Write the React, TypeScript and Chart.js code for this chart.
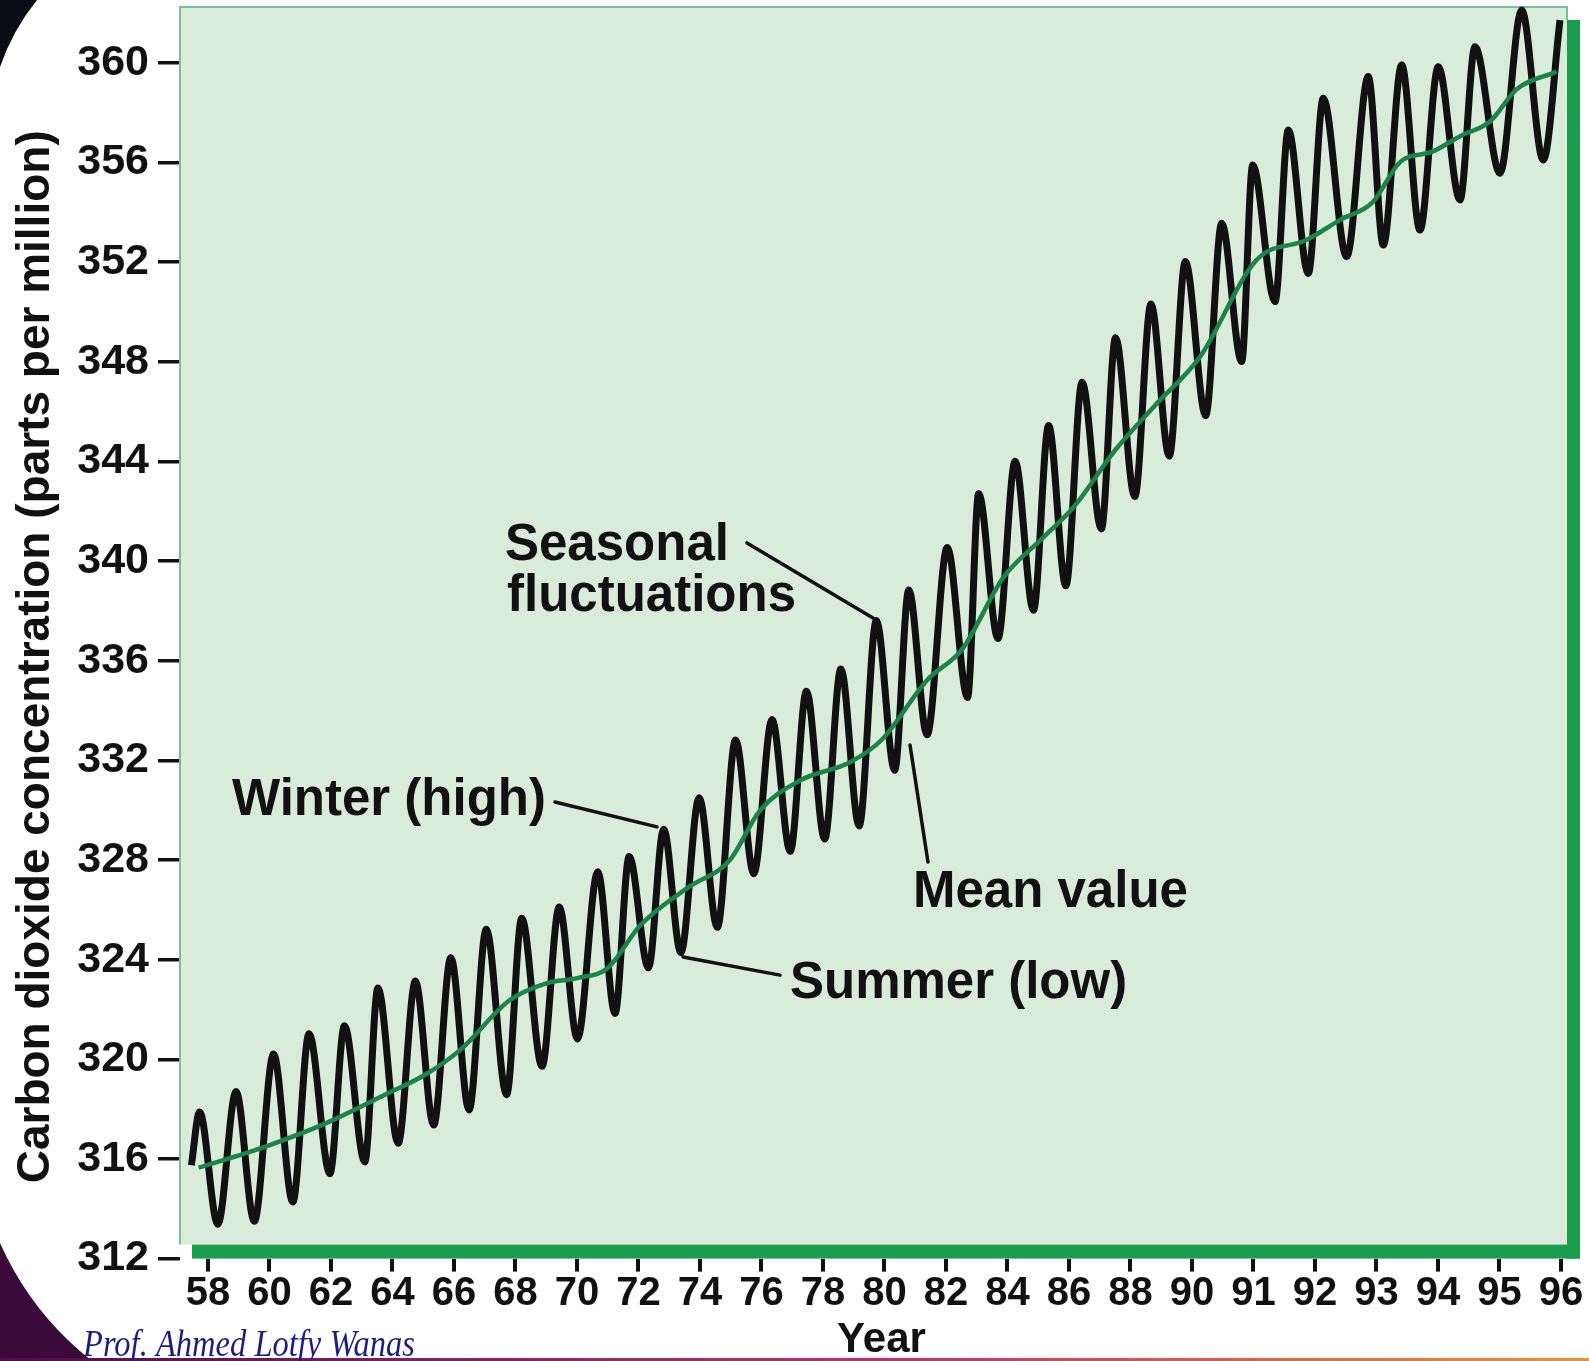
import React, { useEffect, useRef } from 'react';
import { Chart, registerables } from 'chart.js';

Chart.register(...registerables);

// ---- data ----
const xTickLabels = ['58', '60', '62', '64', '66', '68', '70', '72', '74', '76', '78', '80', '82', '84', '86', '88', '90', '91', '92', '93', '94', '95', '96'];
const yTickValues = [312, 316, 320, 324, 328, 332, 336, 340, 344, 348, 352, 356, 360];

// seasonal curve: x = position on the year axis (tick index), y = ppm (peaks and troughs)
const seasonalX = [-0.27, -0.137, 0.16, 0.456, 0.753, 1.066, 1.379, 1.643, 1.982, 2.219, 2.549, 2.763, 3.092, 3.372, 3.669, 3.949, 4.245, 4.525, 4.855, 5.102, 5.431, 5.711, 6.008, 6.338, 6.618, 6.849, 7.162, 7.409, 7.689, 7.986, 8.282, 8.579, 8.875, 9.171, 9.468, 9.731, 10.028, 10.291, 10.588, 10.868, 11.165, 11.395, 11.692, 12.021, 12.351, 12.532, 12.845, 13.125, 13.422, 13.669, 13.949, 14.213, 14.526, 14.757, 15.07, 15.333, 15.63, 15.893, 16.223, 16.483, 16.808, 16.987, 17.35, 17.566, 17.891, 18.135, 18.515, 18.867, 19.111, 19.41, 19.707, 20.005, 20.358, 20.602, 21.008, 21.361, 21.712, 21.984];
const seasonalY = [315.75, 317.89, 313.38, 318.71, 313.5, 320.21, 314.27, 321.03, 315.41, 321.35, 315.88, 322.86, 316.63, 323.14, 317.36, 324.08, 317.97, 325.22, 318.58, 325.66, 319.72, 326.11, 320.82, 327.53, 321.84, 328.14, 323.67, 329.24, 324.28, 330.5, 325.3, 332.82, 327.45, 333.64, 328.35, 334.78, 328.84, 335.67, 329.37, 337.62, 331.6, 338.84, 333.03, 340.55, 334.53, 342.71, 336.89, 344.01, 338.03, 345.44, 339.01, 347.18, 341.29, 348.97, 342.59, 350.32, 344.21, 352.03, 345.84, 353.56, 348.01, 355.9, 350.42, 357.31, 351.55, 358.58, 352.22, 359.45, 352.69, 359.92, 353.29, 359.85, 354.5, 360.65, 355.57, 362.12, 356.1, 361.72];

// mean value line
const meanX = [-0.153, 0.901, 1.923, 2.878, 3.537, 4.097, 4.904, 5.514, 6.008, 6.502, 7.029, 7.82, 8.479, 8.973, 9.632, 10.44, 10.951, 11.692, 12.269, 12.928, 13.587, 14.081, 14.74, 15.399, 16.13, 17.05, 17.86, 18.41, 18.94, 19.38, 19.92, 20.36, 20.85, 21.28, 21.93];
const meanY = [315.65, 316.47, 317.44, 318.58, 319.39, 320.37, 322.37, 323.06, 323.26, 323.67, 325.38, 326.92, 327.98, 329.98, 331.2, 331.93, 332.82, 335.22, 336.48, 339.33, 340.96, 342.18, 344.42, 346.25, 348.2, 352.09, 352.89, 353.7, 354.41, 356.01, 356.45, 357.06, 357.66, 358.94, 359.65];

// annotation labels (anchored in data units: left edge / baseline)
const noteLabels = ['Seasonal', 'fluctuations', 'Winter (high)', 'Summer (low)', 'Mean value'];
const noteX = [4.829, 4.862, 0.39, 9.463, 11.463];
const noteY = [340.05, 338.0, 329.81, 322.46, 326.11];
// pointer lines: [x1, y1, x2, y2] in data units
const pointers = [
  [8.764, 340.73, 10.813, 337.72],
  [5.642, 330.33, 7.301, 329.33],
  [7.724, 324.11, 9.301, 323.38],
  [11.415, 332.62, 11.707, 327.92],
];

const yTitle = 'Carbon dioxide concentration (parts per million)';
const xTitle = 'Year';
const credit = 'Prof. Ahmed Lotfy Wanas';

const SANS = '"Liberation Sans", Arial, Helvetica, sans-serif';
const SERIF = '"Liberation Serif", "Times New Roman", serif';

const decorPlugin = {
  id: 'decor',
  beforeDatasetsDraw(chart: any) {
    const { ctx, chartArea: a } = chart;
    ctx.save();
    // panel background
    ctx.fillStyle = '#d9ecd9';
    ctx.fillRect(a.left, a.top, a.right - a.left, a.bottom - 14 - a.top);
    // thin borders
    ctx.strokeStyle = '#78c096';
    ctx.lineWidth = 2;
    ctx.beginPath();
    ctx.moveTo(a.left, a.bottom - 14);
    ctx.lineTo(a.left, a.top);
    ctx.lineTo(a.right, a.top);
    ctx.lineTo(a.right, a.top + 13);
    ctx.stroke();
    // thick bars
    ctx.fillStyle = '#1b9c4f';
    ctx.fillRect(a.left + 12, a.bottom - 14, a.right + 13 - (a.left + 12), 14);
    ctx.fillRect(a.right, a.top + 13, 13, a.bottom - a.top - 13);
    ctx.restore();
  },
  afterDatasetsDraw(chart: any) {
    const { ctx, chartArea: a } = chart;
    const sx = chart.scales.x;
    const sy = chart.scales.y;
    ctx.save();
    // pointer lines
    ctx.strokeStyle = '#111';
    ctx.lineWidth = 3.5;
    ctx.lineCap = 'round';
    pointers.forEach((p) => {
      ctx.beginPath();
      ctx.moveTo(sx.getPixelForValue(p[0]), sy.getPixelForValue(p[1]));
      ctx.lineTo(sx.getPixelForValue(p[2]), sy.getPixelForValue(p[3]));
      ctx.stroke();
    });
    // labels
    ctx.fillStyle = '#111';
    ctx.font = `bold 51px ${SANS}`;
    ctx.textAlign = 'left';
    ctx.textBaseline = 'alphabetic';
    noteLabels.forEach((t, i) => {
      ctx.fillText(t, sx.getPixelForValue(noteX[i]), sy.getPixelForValue(noteY[i]));
    });
    // y axis title
    ctx.save();
    ctx.translate(49, (a.top + a.bottom) / 2 + 24);
    ctx.rotate(-Math.PI / 2);
    ctx.font = `bold 46px ${SANS}`;
    ctx.textAlign = 'center';
    ctx.fillText(yTitle, 0, 0);
    ctx.restore();
    // x axis title
    ctx.font = `bold 42px ${SANS}`;
    ctx.textAlign = 'center';
    ctx.fillText(xTitle, (a.left + a.right) / 2 + 8, 1352);
    // credit
    ctx.font = `italic 37px ${SERIF}`;
    ctx.fillStyle = '#1c1c88';
    ctx.textAlign = 'left';
    const w = ctx.measureText(credit).width;
    ctx.save();
    ctx.translate(83, 1356);
    ctx.scale(332 / w, 1);
    ctx.fillText(credit, 0, 0);
    ctx.restore();
    ctx.restore();
  },
};

export default function App() {
  const ref = useRef<HTMLCanvasElement | null>(null);

  useEffect(() => {
    if (!ref.current) return;
    const chart = new Chart(ref.current, {
      type: 'line',
      data: {
        datasets: [
          {
            label: 'Mean value',
            data: meanX.map((x, i) => ({ x, y: meanY[i] })),
            borderColor: '#1c8448',
            borderWidth: 4.5,
            pointRadius: 0,
            cubicInterpolationMode: 'monotone',
            fill: false,
            order: 0,
            clip: false as any,
          },
          {
            label: 'Seasonal',
            data: seasonalX.map((x, i) => ({ x, y: seasonalY[i] })),
            borderColor: '#111111',
            borderWidth: 7,
            pointRadius: 0,
            cubicInterpolationMode: 'monotone',
            fill: false,
            order: 1,
            clip: false as any,
          },
        ],
      },
      options: {
        animation: false,
        responsive: false,
        devicePixelRatio: 1,
        layout: { padding: { left: 0, top: 7, right: 22, bottom: 42.4 } },
        plugins: { legend: { display: false }, tooltip: { enabled: false }, title: { display: false } },
        scales: {
          x: {
            type: 'linear',
            min: -0.4553,
            max: 22.098,
            afterBuildTicks: (scale: any) => {
              scale.ticks = xTickLabels.map((_, i) => ({ value: i }));
            },
            afterFit: (scale: any) => {
              scale.height = 60;
              scale.paddingLeft = 0;
              scale.paddingRight = 0;
            },
            grid: { drawOnChartArea: false, drawTicks: true, tickLength: 13, color: '#111', lineWidth: 4 },
            border: { display: false },
            ticks: {
              autoSkip: false,
              maxRotation: 0,
              minRotation: 0,
              padding: 0,
              color: '#111',
              font: { family: SANS, size: 40, weight: 'bold', lineHeight: 1.1 },
              callback: (_v: any, i: number) => xTickLabels[i],
            },
          },
          y: {
            type: 'linear',
            min: 312,
            max: 362.245,
            afterBuildTicks: (scale: any) => {
              scale.ticks = yTickValues.map((v) => ({ value: v }));
            },
            afterFit: (scale: any) => {
              scale.width = 180;
              scale.paddingTop = 0;
              scale.paddingBottom = 0;
            },
            grid: { drawOnChartArea: false, drawTicks: true, tickLength: 22, color: '#111', lineWidth: 3.5 },
            border: { display: false },
            ticks: {
              padding: 9,
              color: '#111',
              font: { family: SANS, size: 43, weight: 'bold' },
              callback: (v: any) => String(v),
            },
          },
        },
      },
      plugins: [decorPlugin],
    } as any);
    return () => chart.destroy();
  }, []);

  return (
    <div style={{ position: 'absolute', left: 0, top: 0, width: 1589, height: 1361, overflow: 'hidden', background: '#fff' }}>
      <svg width={1589} height={1361} style={{ position: 'absolute', left: 0, top: 0 }}>
        <defs>
          <linearGradient id="bottomLine" x1="0" y1="0" x2="1" y2="0">
            <stop offset="0" stopColor="#4a0f4a" />
            <stop offset="0.55" stopColor="#b0386a" />
            <stop offset="1" stopColor="#ec8f3a" />
          </linearGradient>
        </defs>
        <rect x={0} y={0} width={1589} height={1361} fill="#ffffff" />
        <path d="M0,0 L37,0 A223,223 0 0 0 0,67 Z" fill="#0c0c16" />
        <path d="M0,1243 A312,312 0 0 0 92,1361 L0,1361 Z" fill="#3b0a3b" />
        <rect x={0} y={1358} width={1589} height={3} fill="url(#bottomLine)" />
      </svg>
      <canvas ref={ref} width={1589} height={1361} style={{ position: 'absolute', left: 0, top: 0, width: 1589, height: 1361, display: 'block' }} />
    </div>
  );
}
